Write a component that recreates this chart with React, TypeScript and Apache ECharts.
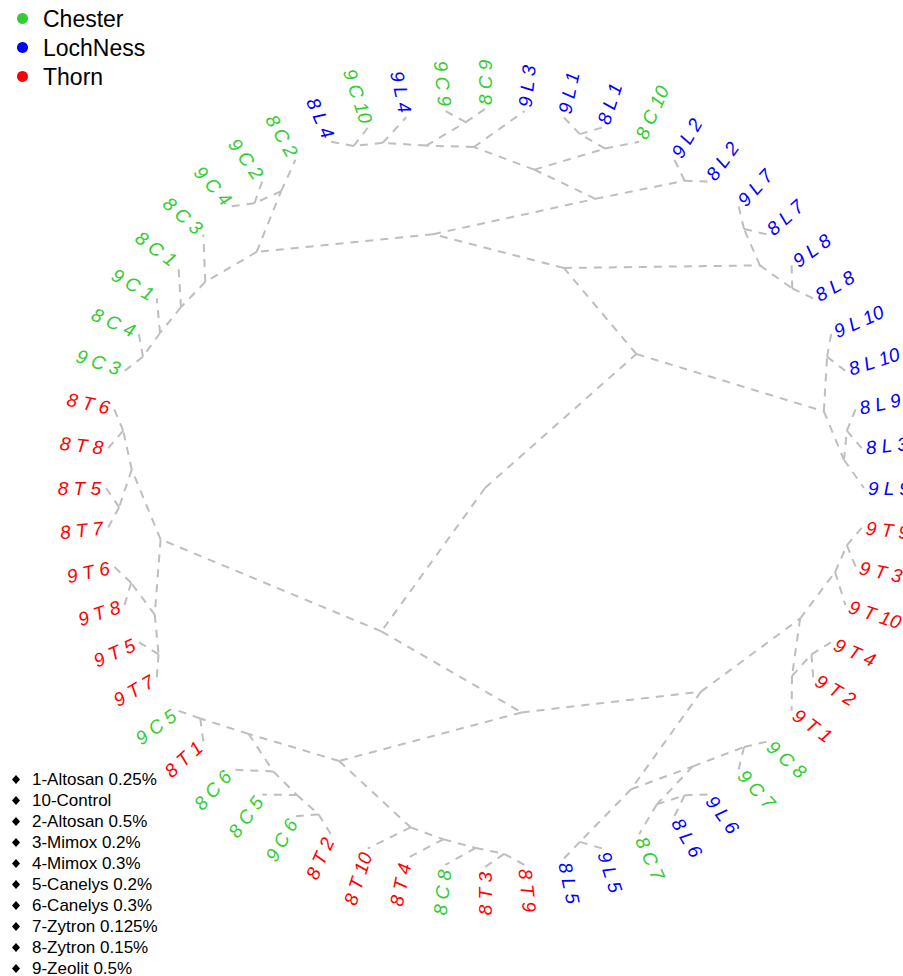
import React, { useEffect, useRef } from "react";
import * as echarts from "echarts";

type Clade = string | Clade[];

// ---- Tree topology (nested pairs). Tips are listed clockwise, starting at 3 o'clock ("9 T 9").
const thornRightClade: Clade = [[["9 T 9", "9 T 3"], "9 T 10"], [["9 T 4", "9 T 2"], "9 T 1"]];
const mixedLowerRightClade: Clade = [[["9 C 8", "9 C 7"], [["9 L 6", "8 L 6"], "8 C 7"]], ["9 L 5", "8 L 5"]];
const thornBottomClade: Clade = [[[["8 T 9", "8 T 3"], "8 C 8"], "8 T 4"], "8 T 10"];
const mixedBottomLeftClade: Clade = [[[["8 T 2", "9 C 6"], "8 C 5"], "8 C 6"], ["8 T 1", "9 C 5"]];
const thornLeftClade: Clade = [[["9 T 7", "9 T 5"], ["9 T 8", "9 T 6"]], [["8 T 7", "8 T 5"], ["8 T 8", "8 T 6"]]];
const chesterLeftClade: Clade = [[[[["9 C 3", "8 C 4"], "9 C 1"], "8 C 1"], "8 C 3"], [["9 C 4", "9 C 2"], "8 C 2"]];
const mixedTopClade: Clade = [[[[["8 L 4", "9 C 10"], "9 L 4"], ["9 C 9", "8 C 9"]], "9 L 3"], [["9 L 1", "8 L 1"], "8 C 10"]];
const lochNessTopRightPair: Clade = ["9 L 2", "8 L 2"];
const lochNessRightClade: Clade = [["9 L 7", "8 L 7"], ["9 L 8", "8 L 8"]];
const lochNessEastClade: Clade = [["9 L 10", "8 L 10"], [["8 L 9", "8 L 3"], "9 L 9"]];

const tree: Clade = [
  [[[thornRightClade, mixedLowerRightClade], [thornBottomClade, mixedBottomLeftClade]], thornLeftClade],
  [[[chesterLeftClade, [mixedTopClade, lochNessTopRightPair]], lochNessRightClade], lochNessEastClade],
];

// ---- Sites (legend) and treatments (key)
const siteNames = ["Chester", "LochNess", "Thorn"];
const siteCodes = ["C", "L", "T"];
const siteColors = ["#32CD32", "#0000FF", "#FF0000"];
const treatmentNames = [
  "1-Altosan 0.25%",
  "10-Control",
  "2-Altosan 0.5%",
  "3-Mimox 0.2%",
  "4-Mimox 0.3%",
  "5-Canelys 0.2%",
  "6-Canelys 0.3%",
  "7-Zytron 0.125%",
  "8-Zytron 0.15%",
  "9-Zeolit 0.5%",
];

// ---- Radial (ape "radial" style) layout: tips evenly on the circle, nodes at 1 - ntips/N
interface LNode { r: number; a: number; k: number; label?: string; children: LNode[] }

function countTips(c: Clade): number {
  return typeof c === "string" ? 1 : c.reduce((s, x) => s + countTips(x), 0);
}

function buildLayout(root: Clade) {
  const N = countTips(root);
  let counter = 0;
  const rec = (c: Clade): LNode => {
    if (typeof c === "string") {
      counter += 1;
      return { r: 1, a: (counter * 360) / N, k: 1, label: c, children: [] };
    }
    const ch = c.map(rec);
    const k = ch.reduce((s, x) => s + x.k, 0);
    const a = ch.reduce((s, x) => s + x.a, 0) / ch.length;
    return { r: 1 - k / N, a, k, children: ch };
  };
  const r = rec(root);
  const edges: number[][] = [];
  const tips: LNode[] = [];
  const walk = (n: LNode) => {
    if (n.label) tips.push(n);
    n.children.forEach((c) => {
      edges.push([n.r, n.a, c.r, c.a]);
      walk(c);
    });
  };
  walk(r);
  return { edges, tips };
}

const FONT = "'Liberation Sans', Arial, sans-serif";

function buildOption() {
  const { edges, tips } = buildLayout(tree);

  const edgeSeries = {
    type: "custom",
    name: "edges",
    coordinateSystem: "polar",
    silent: true,
    clip: false,
    data: edges,
    renderItem: (_p: any, api: any) => {
      const p1 = api.coord([api.value(0), api.value(1)]);
      const p2 = api.coord([api.value(2), api.value(3)]);
      return {
        type: "line",
        shape: { x1: p1[0], y1: p1[1], x2: p2[0], y2: p2[1] },
        style: { stroke: "#BEBEBE", lineWidth: 2, lineDash: [8, 7], fill: null },
      };
    },
  };

  const labelSeries = siteNames.map((name, si) => {
    const siteTips = tips.filter((t) => (t.label as string).split(" ")[1] === siteCodes[si]);
    return {
      type: "custom",
      name,
      coordinateSystem: "polar",
      silent: true,
      clip: false,
      itemStyle: { color: siteColors[si] },
      data: siteTips.map((t) => [t.r, t.a]),
      renderItem: (params: any, api: any) => {
        const t = siteTips[params.dataIndex];
        const p = api.coord([api.value(0), api.value(1)]);
        const rad = (t.a * Math.PI) / 180;
        const cx = Math.cos(rad);
        const flip = cx < -1e-9 || (Math.abs(cx) <= 1e-9 && Math.sin(rad) > 0);
        const rotDeg = flip ? 180 - t.a : -t.a;
        return {
          type: "text",
          x: p[0],
          y: p[1],
          rotation: (rotDeg * Math.PI) / 180,
          style: {
            text: t.label,
            x: flip ? -5 : 4,
            y: 0,
            align: flip ? "right" : "left",
            verticalAlign: "middle",
            fill: siteColors[si],
            fontSize: 19,
            fontStyle: "italic",
            fontFamily: FONT,
          },
        };
      },
    };
  });

  const treatmentSeries = treatmentNames.map((name) => ({
    type: "custom",
    name,
    coordinateSystem: "polar",
    itemStyle: { color: "#000000" },
    data: [],
    renderItem: () => null,
  }));

  return {
    animation: false,
    backgroundColor: "#ffffff",
    textStyle: { fontFamily: FONT },
    polar: { center: [485, 488], radius: 379 },
    angleAxis: {
      type: "value",
      min: 0,
      max: 360,
      startAngle: 0,
      clockwise: true,
      show: false,
      axisLine: { show: false },
      axisTick: { show: false },
      axisLabel: { show: false },
      splitLine: { show: false },
    },
    radiusAxis: {
      type: "value",
      min: 0,
      max: 1,
      show: false,
      axisLine: { show: false },
      axisTick: { show: false },
      axisLabel: { show: false },
      splitLine: { show: false },
    },
    legend: [
      {
        data: siteNames,
        orient: "vertical",
        left: 12,
        top: 2,
        height: 120,
        icon: "circle",
        itemWidth: 11,
        itemHeight: 11,
        itemGap: 6,
        selectedMode: false,
        textStyle: { fontSize: 23, color: "#000", fontFamily: FONT, padding: [0, 0, 0, 10] },
      },
      {
        data: treatmentNames,
        orient: "vertical",
        left: 7,
        top: 766,
        height: 260,
        icon: "diamond",
        itemWidth: 8,
        itemHeight: 9,
        itemGap: 4,
        selectedMode: false,
        textStyle: { fontSize: 17, color: "#000", fontFamily: FONT, padding: [0, 0, 0, 7] },
      },
    ],
    series: [edgeSeries, ...labelSeries, ...treatmentSeries],
  };
}

export default function App() {
  const ref = useRef<HTMLDivElement>(null);
  useEffect(() => {
    if (!ref.current) return;
    const chart = echarts.init(ref.current, null, { renderer: "svg" });
    chart.setOption(buildOption() as any);
    return () => chart.dispose();
  }, []);
  return (
    <div
      ref={ref}
      style={{ position: "absolute", left: 0, top: 0, width: 903, height: 976, background: "#fff" }}
    />
  );
}
